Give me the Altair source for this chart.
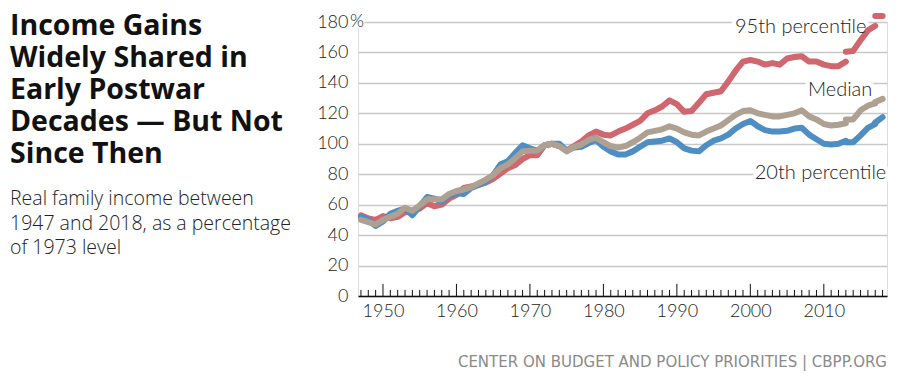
import altair as alt
import pandas as pd

# ---------------- data ----------------
YEARS_1 = list(range(1947, 2014))
P20_1 = [52, 50, 46, 49, 54, 56, 57.5, 53, 59, 65, 64, 62, 66,
         67.5, 67, 71, 73, 75, 79.5, 86.5, 88.5, 94, 99,
         97, 95.5, 99, 100, 100, 95.5, 97.5, 98, 100.5, 102.5,
         98, 95, 93, 93, 95, 98, 101, 101.5, 102, 103.5,
         101, 97, 95.5, 95, 99, 102, 103.5, 106, 110, 113,
         115, 111.5, 109, 108, 108, 108.5, 110, 110.5, 106, 103,
         100, 99.5, 100, 102]
MED_1 = [50, 48.5, 47, 50, 52, 54, 58, 56, 59.5, 63.5, 63.5, 63.5, 67,
         69, 70, 71.5, 74, 76.5, 79.5, 84, 86.5, 90.5, 95,
         95.5, 95.5, 99, 100, 98.5, 95, 98, 99.5, 102.5, 104,
         101, 98.5, 97.5, 98.5, 101, 104, 107.5, 108.5, 109.5, 111.5,
         110, 107.5, 106, 105.5, 108, 110, 112, 115.5, 119, 121.5,
         122, 120, 119, 118, 118, 119, 120, 122, 118, 116,
         113, 112, 112.5, 113.5]
P95_1 = [53, 51, 50, 52.5, 51, 52, 55, 55.5, 57.5, 61, 59, 60, 64,
         66.5, 71, 72, 73, 74.5, 77, 80.5, 84, 86, 90,
         92.5, 92.5, 99, 100, 98.5, 95.5, 98.5, 101.5, 105.5, 108,
         106, 105.5, 108, 110, 112.5, 115, 120, 122, 124.5, 128.5,
         126, 121, 121.5, 127, 132.5, 133.5, 134.5, 141, 148, 154,
         155, 154, 152, 153, 152, 156, 157, 157.5, 154, 154,
         152, 151, 151, 154]

YEARS_2 = [2013, 2014, 2015, 2016, 2017]
P20_2 = [101, 101, 105.5, 110.5, 113]
MED_2 = [116, 116, 122, 125, 126.5]
P95_2 = [160.5, 161, 168, 174.5, 177.5]

YEARS_3 = [2017, 2018]
P20_3 = [114, 117.5]
MED_3 = [127.5, 129.5]
P95_3 = [184, 184]

SERIES = ["95th percentile", "20th percentile", "Median"]
COLORS = ["#d0666e", "#4e8ec2", "#afa192"]

TICK_YEARS = list(range(1947, 2019))
Y_TICKS = [0, 20, 40, 60, 80, 100, 120, 140, 160, 180]
X_LABELS = [1950, 1960, 1970, 1980, 1990, 2000, 2010]

TITLE_LINES = ["Income Gains", "Widely Shared in", "Early Postwar",
               "Decades \u2014 But Not", "Since Then"]
SUBTITLE_LINES = ["Real family income between",
                  "1947 and 2018, as a percentage", "of 1973 level"]
SOURCE = "CENTER ON BUDGET AND POLICY PRIORITIES | CBPP.ORG"

# ---------------- tables ----------------
rows = []
for seg, (yrs, groups) in enumerate([
        (YEARS_1, [P95_1, P20_1, MED_1]),
        (YEARS_2, [P95_2, P20_2, MED_2]),
        (YEARS_3, [P95_3, P20_3, MED_3])]):
    for name, vals in zip(SERIES, groups):
        for y, v in zip(yrs, vals):
            rows.append({"series": name, "seg": seg, "year": y, "value": v})
lines_df = pd.DataFrame(rows)

ticks_df = pd.DataFrame({"year": TICK_YEARS})

labels_df = pd.DataFrame({
    "label": ["95th percentile", "Median", "20th percentile"],
    "year": [2015.8, 2016.6, 2018.5],
    "value": [176.5, 135.3, 80.8],
})
pct_df = pd.DataFrame({"label": ["%"], "value": [180]})

x_scale = alt.Scale(domain=[1946.6, 2018.6], nice=False, zero=False)
y_scale = alt.Scale(domain=[0, 180], nice=False)

FONT = "Lato"

x_axis = alt.Axis(values=X_LABELS, format="d", grid=False, ticks=False, tickSize=0,
                  domainColor="#111", domainWidth=1.5, labelFontSize=18,
                  labelFont=FONT, labelFontWeight=300, labelColor="#222",
                  labelPadding=6, title=None, zindex=1)
y_axis = alt.Axis(values=Y_TICKS, grid=True, gridColor="#c8c8c8", gridWidth=1.5,
                  domain=False, ticks=False, labelFontSize=18, labelFont=FONT,
                  labelFontWeight=300, labelColor="#222", labelPadding=10,
                  title=None, zindex=0)

X = lambda: alt.X("year:Q", scale=x_scale, axis=x_axis)
Y = lambda f: alt.Y(f, scale=y_scale, axis=y_axis)

# year ticks pointing up from the axis
ticks = alt.Chart(ticks_df).transform_calculate(
    base="0",
    top="datum.year % 10 == 0 ? 8 : 4",
).mark_rule(color="#111", strokeWidth=1).encode(
    x=X(),
    y=Y("base:Q"),
    y2="top:Q",
)

# white halos behind labels so the gridlines break around them
halo = alt.Chart(labels_df).mark_text(
    align="right", baseline="middle", font=FONT, fontSize=20, fontWeight=300,
    stroke="white", strokeWidth=9, fill="white",
).encode(x=X(), y=Y("value:Q"), text="label:N")
pct_halo = alt.Chart(pct_df).mark_text(
    align="left", baseline="middle", font=FONT, fontSize=18, fontWeight=300,
    stroke="white", strokeWidth=3, fill="white", dx=-8,
).encode(x=alt.value(0), y=Y("value:Q"), text="label:N")

lines = alt.Chart(lines_df).mark_line(
    strokeWidth=6, strokeCap="round", strokeJoin="round"
).encode(
    x=X(),
    y=Y("value:Q"),
    color=alt.Color("series:N", scale=alt.Scale(domain=SERIES, range=COLORS),
                    legend=None),
    detail="seg:N",
    order=alt.Order("year:Q"),
)

labels = alt.Chart(labels_df).mark_text(
    align="right", baseline="middle", font=FONT, fontSize=20, fontWeight=300,
    color="#222",
).encode(x=X(), y=Y("value:Q"), text="label:N")
pct = alt.Chart(pct_df).mark_text(
    align="left", baseline="middle", font=FONT, fontSize=18, fontWeight=300,
    color="#222", dx=-8,
).encode(x=alt.value(0), y=Y("value:Q"), text="label:N")

one = pd.DataFrame({"a": [0]})
title = alt.Chart(one).mark_text(
    text=TITLE_LINES, align="left", baseline="alphabetic", font="Open Sans",
    fontSize=28.5, fontWeight="bold", color="#111", lineHeight=32,
).encode(x=alt.value(-348), y=alt.value(13))
subtitle = alt.Chart(one).mark_text(
    text=SUBTITLE_LINES, align="left", baseline="alphabetic", font="Open Sans",
    fontSize=19.5, fontWeight=300, color="#222", lineHeight=24.5,
).encode(x=alt.value(-348), y=alt.value(183))
source = alt.Chart(one).mark_text(
    text=SOURCE, align="right", baseline="alphabetic", font="DejaVu Sans",
    fontSize=15, color="#8a8a8a",
).encode(x=alt.value(529), y=alt.value(345))

chart = alt.layer(
    ticks, halo, pct_halo, lines, labels, pct, title, subtitle, source
).properties(
    width=529, height=274,
    autosize=alt.AutoSizeParams(type="none"),
    padding={"left": 350, "top": 14, "right": 7, "bottom": 78},
).configure_view(stroke=None).configure(background="white")

chart.save("out.html", embed_options={"renderer": "svg", "actions": False})
